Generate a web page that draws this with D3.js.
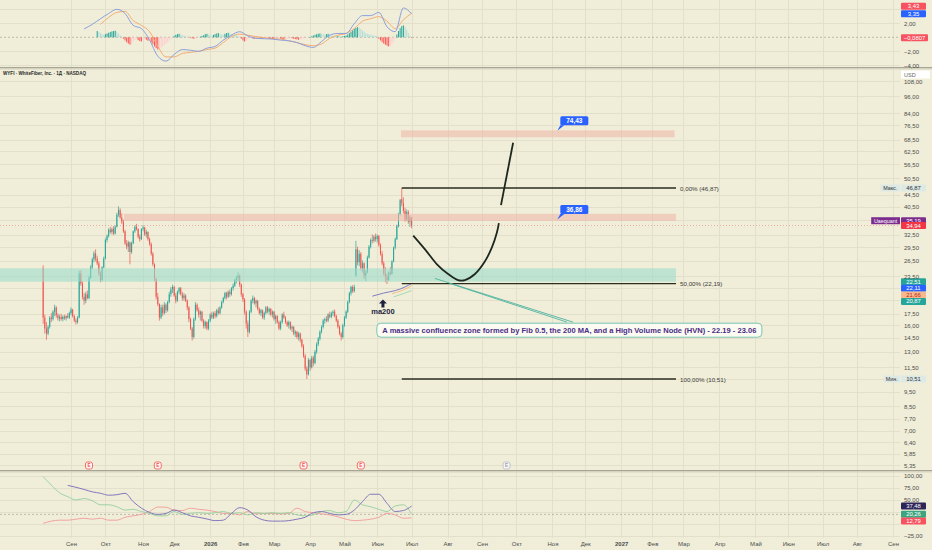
<!DOCTYPE html>
<html>
<head>
<meta charset="utf-8">
<script src="https://d3js.org/d3.v7.min.js"></script>
<style>
  html, body { margin: 0; padding: 0; background: #f0eed8; }
  svg text { font-family: "Liberation Sans", Arial, sans-serif; }
</style>
</head>
<body>
<svg id="chart"></svg>
<script>
var W = 932, H = 550;
var plotR = 900;   // right edge of the plot, price scale sits to the right
var scaleX = 903;  // left edge of the scale labels

// ---------------- data ----------------
var firstDay = "2025-08-07"; // first WYFI session
var holidays = ["2025-09-01", "2025-11-27", "2025-12-25", "2026-01-01", "2026-01-19", "2026-02-16",
  "2026-04-03", "2026-05-25", "2026-06-19", "2026-07-03", "2026-09-07", "2026-11-26", "2026-12-25",
  "2027-01-01", "2027-01-18", "2027-02-15", "2027-03-26", "2027-05-31", "2027-06-18", "2027-07-05"];

// daily [open, high, low, close]
var candles = [
  // aug 2025
  [25.0,25.6,16.2,17.0],[17.0,17.4,15.0,15.6],[15.6,16.4,14.3,15.0],[15.0,16.0,14.8,15.8],[15.8,17.2,15.6,17.0],
  [17.0,17.6,16.4,16.8],[16.8,18.0,16.6,17.8],[17.8,18.8,17.2,18.4],[18.4,18.6,17.0,17.3],[17.3,17.6,16.6,16.9],
  [16.9,17.4,16.5,17.1],[17.1,17.5,16.6,16.8],[16.8,17.3,16.5,17.1],[17.1,17.4,16.7,16.9],[16.9,17.3,16.6,17.2],
  [17.2,17.6,16.9,17.0],[17.0,17.8,16.8,17.6],
  // sep
  [17.6,18.4,17.3,18.1],[18.1,18.2,17.0,17.2],[17.2,17.4,16.4,16.6],[16.6,16.9,16.1,16.4],[16.4,17.2,16.2,17.0],
  [17.0,24.5,16.9,24.0],[24.0,24.6,21.8,22.2],[22.2,22.6,19.6,20.0],[20.0,20.6,18.8,19.4],[19.4,20.8,19.0,20.4],
  [20.4,21.0,19.6,19.8],[19.8,23.6,19.6,23.2],[23.2,25.6,23.0,25.2],[25.2,27.2,24.8,26.8],[26.8,28.6,26.2,28.1],
  [28.1,29.0,26.4,27.0],[27.0,27.6,25.6,26.0],[26.0,26.4,23.6,24.0],[24.0,24.4,22.4,22.8],[22.8,25.4,22.6,25.2],
  [25.2,27.4,25.0,27.0],
  // oct
  [27.0,31.6,26.8,31.2],[31.2,32.6,30.6,32.2],[32.2,34.2,31.8,33.8],[33.8,34.6,32.8,33.2],[33.2,34.4,32.6,34.0],
  [34.0,34.8,32.4,32.8],[32.8,35.0,32.6,34.6],[34.6,38.6,34.4,38.0],[38.0,40.6,37.4,39.4],[39.4,40.0,36.8,37.2],
  [37.2,38.4,35.4,36.0],[36.0,36.6,33.0,33.4],[33.4,33.8,30.0,30.4],[30.4,31.2,29.0,29.6],[29.6,31.0,28.4,30.6],
  [30.6,30.8,25.8,28.4],[28.4,30.8,28.0,30.4],[30.4,33.6,30.2,33.4],[33.4,35.0,33.0,34.6],[34.6,35.4,33.6,34.0],
  [34.0,34.2,31.6,32.0],[32.0,32.6,30.8,31.4],[31.4,34.2,31.2,34.0],
  // nov
  [34.0,35.0,33.4,34.4],[34.4,34.6,32.2,32.6],[32.6,33.8,31.8,33.2],[33.2,33.4,31.0,31.4],[31.4,31.8,29.8,30.2],
  [30.2,30.6,27.6,28.0],[28.0,28.4,25.4,25.8],[25.8,26.0,22.6,23.0],[23.0,23.2,19.6,20.0],[20.0,20.6,18.6,18.9],
  [18.9,19.0,16.6,17.0],[17.0,18.8,16.8,18.4],[18.4,18.8,17.2,17.6],[17.6,19.2,17.4,18.8],[18.8,19.0,17.6,18.0],
  [18.0,19.4,17.8,19.2],[19.2,20.8,19.0,20.4],[20.4,21.6,20.0,21.2],[21.2,22.0,20.6,21.6],
  // dec
  [21.6,21.8,20.0,20.2],[20.2,20.6,19.0,19.4],[19.4,21.0,19.2,20.8],[20.8,21.6,20.4,21.4],[21.4,21.6,20.2,20.4],
  [20.4,20.8,19.4,19.8],[19.8,20.6,19.4,20.2],[20.2,20.4,19.2,19.4],[19.4,19.6,18.0,18.4],[18.4,18.6,16.4,16.8],
  [16.8,17.0,15.4,15.6],[15.6,15.8,14.2,14.6],[14.6,17.0,14.4,16.8],[16.8,19.2,16.6,18.8],[18.8,19.0,17.8,18.0],
  [18.0,18.4,17.0,17.4],[17.4,18.0,16.6,17.8],[17.8,17.9,16.4,16.6],[16.6,16.8,15.6,15.9],[15.9,16.6,15.6,16.4],
  [16.4,16.5,15.4,15.6],[15.6,16.8,15.4,16.6],
  // jan 2026
  [16.6,17.6,16.4,17.4],[17.4,17.8,16.8,17.0],[17.0,17.8,16.8,17.6],[17.6,17.9,16.9,17.2],[17.2,18.2,17.0,18.0],
  [18.0,18.4,17.4,17.6],[17.6,18.6,17.4,18.4],[18.4,19.4,18.2,19.2],[19.2,20.0,19.0,19.8],[19.8,20.8,19.6,20.6],
  [20.6,20.8,19.6,20.0],[20.0,21.0,19.8,20.8],[20.8,21.2,20.0,20.4],[20.4,21.6,20.2,21.4],[21.4,22.2,21.0,21.8],
  [21.8,23.0,21.6,22.8],[22.8,23.6,22.2,23.2],[23.2,24.2,22.6,23.6],[23.6,23.8,21.6,22.0],[22.0,22.2,20.0,20.4],
  // feb
  [20.4,20.6,19.2,19.6],[19.6,19.8,17.4,17.8],[17.8,18.0,15.6,16.2],[16.2,16.6,14.6,15.2],[15.2,18.0,15.0,17.8],
  [17.8,19.6,17.6,19.4],[19.4,20.2,19.0,19.8],[19.8,20.0,18.8,19.0],[19.0,19.6,18.4,19.4],[19.4,19.5,18.0,18.2],
  [18.2,18.4,17.4,17.6],[17.6,18.2,17.2,18.0],[18.0,18.1,16.8,17.0],[17.0,17.8,16.7,17.6],[17.6,18.6,17.4,18.4],
  [18.4,18.6,17.6,17.8],[17.8,18.4,17.4,18.2],[18.2,18.3,17.2,17.4],[17.4,18.0,17.0,17.8],
  // mar
  [17.8,17.9,16.6,16.8],[16.8,17.4,16.2,17.2],[17.2,17.3,16.2,16.4],[16.4,16.6,15.4,15.6],[15.6,16.6,15.4,16.4],
  [16.4,17.6,16.2,17.4],[17.4,17.8,16.8,17.0],[17.0,17.2,16.2,16.4],[16.4,16.6,15.8,16.0],[16.0,16.6,15.6,16.4],
  [16.4,16.5,15.4,15.6],[15.6,16.0,15.2,15.8],[15.8,15.9,14.8,15.0],[15.0,15.4,14.6,15.2],[15.2,15.3,14.4,14.6],
  [14.6,15.2,14.2,15.0],[15.0,15.1,14.0,14.3],[14.3,14.4,13.4,13.6],[13.6,13.8,12.4,12.6],[12.6,12.8,11.2,11.4],
  [11.4,11.6,10.51,10.9],[10.9,12.4,10.8,12.2],
  // apr
  [12.2,12.3,11.2,11.5],[11.5,12.6,11.4,12.4],[12.4,12.6,11.6,11.9],[11.9,13.2,11.8,13.0],[13.0,14.0,12.8,13.8],
  [13.8,14.6,13.6,14.4],[14.4,15.4,14.2,15.2],[15.2,16.0,15.0,15.8],[15.8,16.8,15.6,16.6],[16.6,17.0,16.2,16.8],
  [16.8,17.2,16.4,16.6],[16.6,17.6,16.4,17.4],[17.4,17.8,16.9,17.1],[17.1,17.8,16.9,17.6],[17.6,18.0,17.2,17.8],
  [17.8,18.1,17.0,17.2],[17.2,17.4,16.4,16.6],[16.6,16.8,15.6,15.8],[15.8,16.0,14.8,15.0],[15.0,15.2,14.2,14.6],
  [14.6,16.2,14.4,16.0],
  // may
  [16.0,17.2,15.8,17.0],[17.0,18.0,16.8,17.8],[17.8,19.4,17.6,19.2],[19.2,20.8,19.0,20.6],[20.6,21.8,20.2,21.6],
  [21.6,21.9,20.6,20.9],[20.9,22.0,20.7,21.6],[23.6,31.0,23.4,29.0],[29.0,29.6,25.6,26.2],[26.2,28.8,25.4,28.0],
  [28.0,28.4,24.6,25.0],[25.0,26.6,24.2,26.0],[26.0,26.2,23.0,23.6],[23.6,24.6,22.6,24.2],[24.2,27.6,24.0,27.2],
  [27.2,30.0,27.0,29.6],[29.6,31.6,29.2,31.2],[31.2,32.6,30.4,31.0],[31.0,32.4,30.6,32.0],[32.0,32.8,30.8,31.4],
  // jun
  [31.4,32.6,30.6,32.2],[32.2,32.4,29.6,30.0],[30.0,30.4,27.6,28.0],[28.0,28.6,25.6,26.0],[26.0,26.4,23.6,24.0],
  [24.0,25.2,22.4,23.4],[23.4,24.0,22.1,22.8],[22.8,24.4,22.6,24.2],[24.2,25.2,23.6,23.9],[23.9,26.6,23.8,26.4],
  [26.4,29.6,26.2,29.4],[29.4,31.8,29.0,31.4],[31.4,35.2,31.2,34.8],[34.8,38.6,34.4,38.2],[38.2,43.0,37.8,42.6],
  [43.0,46.87,40.6,41.6],[41.6,43.6,38.4,39.2],[39.2,40.2,36.0,36.6],[36.6,39.6,36.2,38.8],[38.8,39.4,35.4,36.0],
  [36.0,37.8,34.6,37.2],
  // jul
  [37.2,37.4,34.2,34.94]
];

// MACD panel, lines read every 5 bars
var step = 5;
var macdStart = 25;
var macdLine = [1.2, 1.85, 2.65, 3.4, 4.0, 3.4, 1.7, 1.25, -0.4, -2.7, -3.4, -2.45, -1.75, -1.85, -2.0, -1.55,
  -1.3, -0.4, 0.3, 0.8, 0.2, -0.15, -0.2, -0.25, -0.4, -0.5, -0.75, -1.2, -1.45, -0.6, 0.3, 0.55, 0.55,
  1.95, 3.1, 3.1, 3.55, 1.5, 0.8, 4.2, 3.35];
var signalStart = 35;
var signalLine = [1.85, 2.85, 3.55, 3.7, 2.4, 1.7, 0.8, -1.3, -2.8, -2.8, -2.3, -2.15, -2.0, -1.75, -1.55,
  -0.75, 0.1, 0.45, 0.3, 0.1, -0.05, -0.2, -0.25, -0.5, -0.75, -1.05, -1.2, -0.95, -0.15, 0.3, 0.55, 1.25,
  2.3, 2.65, 2.95, 2.3, 1.25, 2.5, 3.43];
// histogram, one value per bar
var histStart = 33;
var macdHist = [0.9, 0.75, 0.6, 0.45, 0.35,
  0.45, 0.55, 0.65, 0.75, 0.85, 0.9, 0.95,
  0.8, 0.55, 0.3, 0.1,
  -0.2, -0.45, -0.7, -0.9, -1.05, -1.0,
  -0.6, -0.35, -0.25,
  -0.4, -0.55, -0.6,
  -0.45, -0.3, -0.35, -0.5, -0.4,
  -0.7, -1.0, -1.3, -1.55, -1.75, -1.7,
  -1.5, -1.3, -1.1, -0.9, -0.7, -0.5, -0.3, -0.1,
  0.2, 0.35, 0.45, 0.5, 0.4, 0.3, 0.25,
  0.15, 0.1, 0.05, -0.05,
  -0.15, -0.2, -0.15, -0.1, -0.05,
  0.1, 0.2, 0.3, 0.45, 0.5, 0.4, 0.3, 0.25, 0.35, 0.45, 0.55, 0.6, 0.5,
  0.4, 0.35, 0.5, 0.6, 0.65, 0.55, 0.45, 0.4, 0.35, 0.3, 0.2, 0.1,
  -0.2, -0.45, -0.6, -0.55, -0.3, -0.15,
  -0.1, -0.15, -0.2, -0.15, -0.1, -0.15, -0.2, -0.25, -0.2, -0.15, -0.1, -0.15, -0.2, -0.25, -0.3, -0.25,
  -0.2, -0.15, -0.2, -0.25, -0.3, -0.25, -0.2, -0.15, -0.1, -0.15, -0.2, -0.25, -0.3, -0.35, -0.3, -0.25,
  -0.2, -0.15, -0.1,
  -0.05, 0.05, 0.15, 0.25,
  0.35, 0.45, 0.5, 0.55, 0.5, 0.45, 0.4, 0.45, 0.5, 0.4, 0.3,
  0.25, 0.2, 0.15, 0.2, 0.15, 0.1, 0.15, 0.2, 0.25,
  0.4, 0.6, 0.8, 1.0, 1.2, 1.35, 1.45, 1.4,
  1.2, 1.0, 0.8, 0.6, 0.5, 0.45, 0.4, 0.3, 0.25, 0.2, 0.1,
  -0.2, -0.45, -0.7, -0.9, -1.05, -1.2, -1.3, -1.25, -1.0,
  -0.6, -0.2,
  0.4, 0.9, 1.3, 1.6, 1.7, 1.5, 1.1, 0.6,
  0.2, -0.0807];

// DMI panel, read every 5 bars
var dmiStart = 0;
var plusDI = [98.5, 81, 65, 57, 50, 53, 48.5, 40, 40, 36, 29, 30.5, 26, 22, 17, 17, 26, 20, 22, 23.5,
  22, 23.5, 26, 22, 23.5, 19, 23.5, 22, 23.5, 22, 23.5, 19, 17, 19, 26, 28, 23.5, 26, 50, 40,
  36, 30.5, 26, 37.5, 40, 20.26];
var minusDI = [1.4, 6, 8, 8, 10, 12, 10, 12, 8, 8, 14, 17, 20, 26, 35.4, 35, 29, 28, 33, 30.5,
  29, 26, 22, 22, 19, 26, 21, 22, 22, 21, 22, 33, 26, 23.5, 21, 19, 15, 10, 7, 8,
  10, 14, 22, 19, 12, 12.79];
var adxStart = 15;
var adxLine = [80.5, 76.5, 72, 67, 64, 60, 61, 64, 46.5, 33, 24, 20, 22, 29, 23.5, 17, 14, 10.5, 7, 8,
  22, 34, 29, 15, 8, 6, 6, 7, 10, 14, 23.5, 26, 22, 19, 20, 29, 46.5, 62, 62, 43, 26, 28, 37.48];

// moving averages near the last bars
var ma200Bars = [201, 208, 215, 221, 225], ma200 = [20.1, 20.6, 21.0, 21.6, 22.2];
var ma50Bars = [213, 219, 225], ma50 = [20.5, 21.0, 21.8];
var ma100Bars = [214, 220, 225], ma100 = [20.0, 20.5, 21.0];

// scales' tick values
var priceTicks = [108, 96, 84, 76.5, 68.5, 62.5, 56.5, 50.5, 44.5, 40.5, 36.5, 32.5, 29.5, 26.5, 23.5,
  21.5, 19.5, 17.5, 16, 14.5, 13, 11.5, 10.5, 9.5, 8.5, 7.7, 7, 6.4, 5.85, 5.35];
var macdTicks = [4, 2, 0, -2, -4];
var dmiTicks = [100, 75, 50, 25, 0, -25];
var monthNames = ["Янв", "Фев", "Мар", "Апр", "Май", "Июн", "Июл", "Авг", "Сен", "Окт", "Ноя", "Дек"];

// drawings
var fibNames = ["0,00%", "50,00%", "100,00%"];
var fibPrices = [46.87, 22.19, 10.51];
var fibBars = [219, 386.5];
var zoneBars = [[49.3, 386.5], [218.5, 385.6], [-30, 386.5]];
var zoneLo = [36.2, 69.7, 22.5];
var zoneHi = [38.3, 73.6, 25.0];
var targetNames = ["74,43", "36,86"];
var targetBar = 314;
var targetPrices = [73.3, 36.6];
var pathBars = [226, 233.2, 240.5, 247.3, 253.3, 257.6, 263.7, 269.8, 274.1, 277.1, 278.3];
var pathPrices = [32.3, 29.0, 25.8, 23.9, 22.8, 22.8, 23.9, 26.4, 29.5, 33.1, 35.6];
var legBars = [279.6, 287];
var legPrices = [41.0, 66.8];
var earningsBars = [28, 70, 159, 194, 283];
var noteText = "A massive confluence zone formed by Fib 0.5, the 200 MA, and a High Volume Node (HVN) - 22.19 - 23.06";
var noteBar = 203.8, notePrice = 15.4;
var linkBars = [[239.2, 323.6], [248.4, 319.9]];
var linkPrices = [[23.1, 16.4], [22.2, 16.4]];
var maTagBar = 207.5, maTagPrice = 19.6;

// scale badges
var extremeBadges = [
  {v: 46.87, txt: "46,87", fill: "#dde9e4", ink: "#333", tag: "Макс."},
  {v: 10.51, txt: "10,51", fill: "#dde9e4", ink: "#333", tag: "Мин."}
];
var lastBadges = [
  {v: 35.19, txt: "35,19", fill: "#7b2d8e", ink: "#fff", tag: "Uaequant"},
  {v: 34.94, txt: "34,94", fill: "#f23645", ink: "#fff"}
];
var maBadges = [
  {v: 22.51, txt: "22,51", fill: "#26a69a", ink: "#fff"},
  {v: 22.11, txt: "22,11", fill: "#2962ff", ink: "#fff"},
  {v: 21.66, txt: "21,66", fill: "#f7b98b", ink: "#b71c1c"},
  {v: 20.87, txt: "20,87", fill: "#26a69a", ink: "#fff"}
];
var macdBadges = [
  {v: 3.43, txt: "3,43", fill: "#f7525f", ink: "#fff"},
  {v: 3.35, txt: "3,35", fill: "#2962ff", ink: "#fff"}
];
var histBadge = [{v: -0.0807, txt: "\u22120,0807", fill: "#f7525f", ink: "#fff"}];
var dmiBadges = [
  {v: 37.48, txt: "37,48", fill: "#2d2458", ink: "#fff"},
  {v: 20.26, txt: "20,26", fill: "#3aa57f", ink: "#fff"},
  {v: 12.79, txt: "12,79", fill: "#f7525f", ink: "#fff"}
];

// ---------------- helpers ----------------
function gpos(x, y) {
  return "translate(" + x + "," + y + ")";
}
function ru(v, d) {
  return d3.format("." + d + "f")(v).replace(".", ",").replace("-", "\u2212");
}

// trading days (weekdays minus exchange holidays)
var parseDay = d3.utcParse("%Y-%m-%d"), fmtDay = d3.utcFormat("%Y-%m-%d");
var days = [];
for (var d = parseDay(firstDay); d <= parseDay("2027-10-01"); d = d3.utcDay.offset(d, 1)) {
  var wd = d.getUTCDay();
  if (wd == 0 || wd == 6 || holidays.indexOf(fmtDay(d)) >= 0) continue;
  days.push(d);
}
var bisectDay = d3.bisector(function(t) { return t; }).left;
function dayIdx(s) { return bisectDay(days, parseDay(s)); }

var monthIdx = d3.utcMonth.range(parseDay("2025-09-01"), parseDay("2027-09-02"))
  .map(function(m) { return dayIdx(fmtDay(m)); });

// ---------------- scales ----------------
var x = d3.scaleLinear().domain([dayIdx("2025-09-01"), dayIdx("2027-09-01")]).range([71, 893]);
var y = d3.scaleLog().domain([10.51, 46.87]).range([379, 188]);
var yMacd = d3.scaleLinear().domain([-4, 2]).range([65.3, 23.3]);
var yDmi = d3.scaleLinear().domain([-25, 100]).range([536, 476]);

var upCol = "#26a69a", downCol = "#ef5350";
var gridCol = "#e2dfca";

var svg = d3.select("#chart").attr("width", W).attr("height", H);
svg.append("rect").attr("width", W).attr("height", H).attr("fill", "#f0eed8");

var defs = svg.append("defs");
function clip(id, y0, y1) {
  defs.append("clipPath").attr("id", id).append("rect")
    .attr("x", 0).attr("y", y0).attr("width", plotR).attr("height", y1 - y0);
}
clip("clipMacd", 0, 67);
clip("clipMain", 70, 470);
clip("clipDmi", 472, 538);

// ---------------- grid ----------------
var grid = svg.append("g").attr("stroke", gridCol).attr("stroke-width", 1);
grid.selectAll("line.v").data(monthIdx).enter().append("line")
  .attr("x1", function(i) { return Math.round(x(i)) + 0.5; })
  .attr("x2", function(i) { return Math.round(x(i)) + 0.5; })
  .attr("y1", 0).attr("y2", 538);
function hGrid(vals, sc, y0, y1) {
  grid.selectAll(null).data(vals.filter(function(v) { var p = sc(v); return p > y0 && p < y1; }))
    .enter().append("line")
    .attr("x1", 0).attr("x2", plotR)
    .attr("y1", function(v) { return Math.round(sc(v)) + 0.5; })
    .attr("y2", function(v) { return Math.round(sc(v)) + 0.5; });
}
hGrid(priceTicks, y, 70, 470);
hGrid(macdTicks.filter(function(v) { return v != 0; }), yMacd, 0, 67);
hGrid(dmiTicks, yDmi, 472, 538);

// dashed reference lines
svg.append("line").attr("x1", 0).attr("x2", plotR).attr("y1", yMacd(0)).attr("y2", yMacd(0))
  .attr("stroke", "#aeac9a").attr("stroke-dasharray", "2,2").attr("stroke-width", 0.8);
svg.append("line").attr("x1", 0).attr("x2", plotR).attr("y1", yDmi(20)).attr("y2", yDmi(20))
  .attr("stroke", "#aeac9a").attr("stroke-dasharray", "2,2").attr("stroke-width", 0.8);

var bw = Math.max(1, (x(1) - x(0)) * 0.62);

// ---------------- MACD panel ----------------
var gM = svg.append("g").attr("clip-path", "url(#clipMacd)");
gM.selectAll("rect").data(macdHist).enter().append("rect")
  .attr("x", function(v, k) { return x(histStart + k) - bw / 2; })
  .attr("width", bw)
  .attr("y", function(v) { return Math.min(yMacd(v), yMacd(0)); })
  .attr("height", function(v) { return Math.max(0.6, Math.abs(yMacd(v) - yMacd(0))); })
  .attr("fill", function(v, k) {
    var prev = k > 0 ? macdHist[k - 1] : v;
    if (v >= 0) return v >= prev ? "#26a69a" : "#b2dfdb";
    return v <= prev ? "#ff5252" : "#ffcdd2";
  });

function sampled(start, vals) {
  return vals.map(function(v, k) { return [start + k * step, v]; });
}
var macdPath = d3.line().x(function(p) { return x(p[0]); }).y(function(p) { return yMacd(p[1]); })
  .curve(d3.curveMonotoneX);
gM.append("path").attr("d", macdPath(sampled(signalStart, signalLine)))
  .attr("fill", "none").attr("stroke", "#f4ad74").attr("stroke-width", 1);
gM.append("path").attr("d", macdPath(sampled(macdStart, macdLine)))
  .attr("fill", "none").attr("stroke", "#8c9fdc").attr("stroke-width", 1);

// ---------------- DMI panel ----------------
var gD = svg.append("g").attr("clip-path", "url(#clipDmi)");
var dmiPath = d3.line().x(function(p) { return x(p[0]); }).y(function(p) { return yDmi(p[1]); })
  .curve(d3.curveMonotoneX);
gD.append("path").attr("d", dmiPath(sampled(dmiStart, minusDI)))
  .attr("fill", "none").attr("stroke", "#f19b98").attr("stroke-width", 0.9);
gD.append("path").attr("d", dmiPath(sampled(dmiStart, plusDI)))
  .attr("fill", "none").attr("stroke", "#93cf9d").attr("stroke-width", 0.9);
gD.append("path").attr("d", dmiPath(sampled(adxStart, adxLine)))
  .attr("fill", "none").attr("stroke", "#8377bd").attr("stroke-width", 1);

// ---------------- main panel ----------------
var gC = svg.append("g").attr("clip-path", "url(#clipMain)");

// candles
gC.append("g").selectAll("line").data(candles).enter().append("line")
  .attr("x1", function(c, i) { return x(i); }).attr("x2", function(c, i) { return x(i); })
  .attr("y1", function(c) { return y(c[1]); }).attr("y2", function(c) { return y(c[2]); })
  .attr("stroke", function(c) { return c[3] >= c[0] ? upCol : downCol; })
  .attr("stroke-width", 0.7);
gC.append("g").selectAll("rect").data(candles).enter().append("rect")
  .attr("x", function(c, i) { return x(i) - bw / 2; })
  .attr("width", bw)
  .attr("y", function(c) { return y(Math.max(c[0], c[3])); })
  .attr("height", function(c) { return Math.max(0.8, Math.abs(y(c[0]) - y(c[3]))); })
  .attr("fill", function(c) { return c[3] >= c[0] ? upCol : downCol; });

// zones
var zoneFill = ["#f0b9ad", "#f0b9ad", "#9ddccb"];
gC.append("g").selectAll("rect").data(zoneBars).enter().append("rect")
  .attr("x", function(b) { return x(b[0]); })
  .attr("width", function(b) { return x(b[1]) - x(b[0]); })
  .attr("y", function(b, k) { return y(zoneHi[k]); })
  .attr("height", function(b, k) { return y(zoneLo[k]) - y(zoneHi[k]); })
  .attr("fill", function(b, k) { return zoneFill[k]; })
  .attr("opacity", 0.6);

// last price line
gC.append("line").attr("x1", 0).attr("x2", plotR)
  .attr("y1", y(34.94)).attr("y2", y(34.94))
  .attr("stroke", "#f23645").attr("stroke-opacity", 0.45)
  .attr("stroke-dasharray", "1,2").attr("stroke-width", 0.8);

// moving averages
var maPath = d3.line().curve(d3.curveMonotoneX);
function drawMa(bars, vals, col, op) {
  gC.append("path")
    .attr("d", maPath(bars.map(function(b, k) { return [x(b), y(vals[k])]; })))
    .attr("fill", "none").attr("stroke", col).attr("stroke-opacity", op).attr("stroke-width", 1);
}
drawMa(ma100Bars, ma100, "#8fd3a8", 0.8);
drawMa(ma50Bars, ma50, "#f4b06f", 0.8);
drawMa(ma200Bars, ma200, "#7f7fc4", 1);

// fib retracement
var gF = gC.append("g");
fibPrices.forEach(function(p, k) {
  gF.append("line")
    .attr("x1", x(fibBars[0])).attr("x2", x(fibBars[1]))
    .attr("y1", y(p)).attr("y2", y(p))
    .attr("stroke", "#2a2c20").attr("stroke-width", 1.3);
  gF.append("text")
    .attr("x", x(fibBars[1]) + 4).attr("y", y(p))
    .attr("dominant-baseline", "central")
    .attr("font-size", 6.2).attr("fill", "#3a3a3a")
    .text(fibNames[k] + " (" + ru(p, 2) + ")");
});

// projected path
var curve = d3.line().curve(d3.curveCatmullRom.alpha(0.5));
gC.append("path")
  .attr("d", curve(pathBars.map(function(b, k) { return [x(b), y(pathPrices[k])]; })))
  .attr("fill", "none").attr("stroke", "#1e281e").attr("stroke-width", 1.8);
gC.append("path")
  .attr("d", d3.line()(legBars.map(function(b, k) { return [x(b), y(legPrices[k])]; })))
  .attr("fill", "none").attr("stroke", "#1e281e").attr("stroke-width", 1.8);

// connectors to the note
linkBars.forEach(function(b, k) {
  gC.append("line")
    .attr("x1", x(b[0])).attr("y1", y(linkPrices[k][0]))
    .attr("x2", x(b[1])).attr("y2", y(linkPrices[k][1]))
    .attr("stroke", "#4fb3a0").attr("stroke-width", 0.9);
});

// note box
var nx = x(noteBar), ny = y(notePrice);
gC.append("rect").attr("x", nx).attr("y", ny - 7).attr("width", 385).attr("height", 14)
  .attr("rx", 4).attr("fill", "#fbfbf2").attr("stroke", "#6cc0ae").attr("stroke-width", 0.9);
gC.append("text").attr("x", nx + 192.5).attr("y", ny + 0.3)
  .attr("text-anchor", "middle").attr("dominant-baseline", "central")
  .attr("font-size", 7.2).attr("font-weight", "bold").attr("fill", "#4a2b86")
  .attr("textLength", 374).attr("lengthAdjust", "spacingAndGlyphs")
  .text(noteText);

// ma200 tag
var ax = x(maTagBar), ay = y(maTagPrice);
gC.append("path")
  .attr("d", "M" + ax + "," + ay + "l4,4h-2.5v4h-3v-4h-2.5z")
  .attr("fill", "#1d1f3f");
gC.append("text").attr("x", ax).attr("y", ay + 14.5).attr("text-anchor", "middle")
  .attr("font-size", 7.5).attr("font-weight", "bold").attr("fill", "#1d1f3f").text("ma200");

// price targets
targetPrices.forEach(function(p, k) {
  var tx = x(targetBar), ty = y(p);
  gC.append("path")
    .attr("d", "M" + (tx + 3) + "," + (ty - 5.5) + "L" + (tx + 7) + "," + (ty - 5.5) + "L" + tx + "," + ty + "Z")
    .attr("fill", "#2962ff");
  gC.append("rect").attr("x", tx + 3).attr("y", ty - 14.5).attr("width", 28).attr("height", 9)
    .attr("rx", 1.5).attr("fill", "#2962ff");
  gC.append("text").attr("x", tx + 17).attr("y", ty - 10)
    .attr("text-anchor", "middle").attr("dominant-baseline", "central")
    .attr("font-size", 6.5).attr("font-weight", "bold").attr("fill", "#fff")
    .text(targetNames[k]);
});

// earnings flags
var gE = svg.append("g");
earningsBars.forEach(function(b, k) {
  var past = b < candles.length;
  var ex = x(b);
  gE.append("rect").attr("x", ex - 3.5).attr("y", 462).attr("width", 7).attr("height", 7).attr("rx", 2)
    .attr("fill", past ? "#fff4f2" : "#f7f7f2")
    .attr("stroke", past ? "#ef5350" : "#b9b9c4").attr("stroke-width", 0.8);
  gE.append("text").attr("x", ex).attr("y", 465.7).attr("text-anchor", "middle")
    .attr("dominant-baseline", "central").attr("font-size", 4.6).attr("font-weight", "bold")
    .attr("fill", past ? "#ef5350" : "#9a9aab").text("E");
});

// panel separators
[67.5, 470.5].forEach(function(sy) {
  svg.append("rect").attr("x", 0).attr("y", sy - 0.5).attr("width", W).attr("height", 1.2).attr("fill", "#a7a594");
  svg.append("rect").attr("x", 0).attr("y", sy + 0.9).attr("width", W).attr("height", 1).attr("fill", "#cfcdbb");
});

// ---------------- badges ----------------
var badgeH = 7;
// dir > 0 pushes lower badges down, dir < 0 pushes upper badges up
function placeBadges(list, sc, dir, gap) {
  var ys = list.map(function(b) { return sc(b.v); });
  var k;
  if (dir > 0) for (k = 1; k < ys.length; k++) ys[k] = Math.max(ys[k], ys[k - 1] + gap);
  if (dir < 0) for (k = ys.length - 2; k >= 0; k--) ys[k] = Math.min(ys[k], ys[k + 1] - gap);
  return ys;
}
var gB = svg.append("g");
function drawBadges(list, ys) {
  list.forEach(function(b, k) {
    var by = ys[k];
    var bwid = b.txt.length > 5 ? 27 : 25;
    if (b.tag) {
      var tw = b.tag.length * 3.1 + 4;
      gB.append("rect").attr("x", plotR - tw).attr("y", by - badgeH / 2).attr("width", tw).attr("height", badgeH)
        .attr("fill", b.fill);
      gB.append("text").attr("x", plotR - tw / 2).attr("y", by).attr("text-anchor", "middle")
        .attr("dominant-baseline", "central").attr("font-size", 5.4).attr("fill", b.ink).text(b.tag);
    }
    gB.append("rect").attr("x", plotR + 1).attr("y", by - badgeH / 2).attr("width", bwid).attr("height", badgeH)
      .attr("rx", 1).attr("fill", b.fill);
    gB.append("text").attr("x", plotR + 1 + bwid / 2).attr("y", by).attr("text-anchor", "middle")
      .attr("dominant-baseline", "central").attr("font-size", 5.9).attr("fill", b.ink).text(b.txt);
  });
}

var extYs = placeBadges(extremeBadges, y, 0, 0);
var lastYs = placeBadges(lastBadges, y, -1, 4.8);
var maYs = placeBadges(maBadges, y, 1, 6.6);
var macdYs = placeBadges(macdBadges, yMacd, -1, 7.5);
var histYs = placeBadges(histBadge, yMacd, 0, 0);
var dmiYs = placeBadges(dmiBadges, yDmi, 1, 6.6);
var allYs = extYs.concat(lastYs, maYs, macdYs, histYs, dmiYs);

// ---------------- axes ----------------
function scaleAxis(sc, vals, dec, y0, y1) {
  var ax = d3.axisRight(sc).tickValues(vals.filter(function(v) {
      var p = sc(v);
      return p > y0 && p < y1 && !allYs.some(function(b) { return Math.abs(b - p) < 5.2; });
    }))
    .tickSize(0).tickPadding(0).tickFormat(function(v) { return ru(v, dec); });
  var g = svg.append("g").attr("transform", gpos(scaleX + 1, 0)).call(ax);
  g.select(".domain").remove();
  g.selectAll("text").attr("font-size", 6).attr("fill", "#4d4d4d")
    .attr("font-family", "Liberation Sans, Arial, sans-serif");
}
scaleAxis(y, priceTicks, 2, 80, 468);
scaleAxis(yMacd, macdTicks, 2, 3, 67);
scaleAxis(yDmi, dmiTicks, 2, 472, 538);

drawBadges(extremeBadges, extYs);
drawBadges(lastBadges, lastYs);
drawBadges(maBadges, maYs);
drawBadges(macdBadges, macdYs);
drawBadges(histBadge, histYs);
drawBadges(dmiBadges, dmiYs);

// currency tag
gB.append("rect").attr("x", plotR + 1).attr("y", 70.5).attr("width", 29).attr("height", 8)
  .attr("fill", "#ffffff");
gB.append("text").attr("x", plotR + 4).attr("y", 74.7).attr("dominant-baseline", "central")
  .attr("font-size", 5.6).attr("fill", "#666").text("USD");

// time axis
var xAxis = d3.axisBottom(x).tickValues(monthIdx).tickSize(0).tickPadding(0)
  .tickFormat(function(i) {
    var m = days[i].getUTCMonth();
    return m == 0 ? String(days[i].getUTCFullYear()) : monthNames[m];
  });
var gX = svg.append("g").attr("transform", gpos(0, 541.5)).call(xAxis);
gX.select(".domain").remove();
gX.selectAll("text").attr("font-size", 6).attr("fill", "#4d4d4d")
  .attr("font-family", "Liberation Sans, Arial, sans-serif")
  .attr("font-weight", function(i) { return days[i].getUTCMonth() == 0 ? "bold" : null; });

// symbol title
svg.append("text").attr("x", 3).attr("y", 75.2)
  .attr("font-size", 5.6).attr("font-weight", "bold").attr("fill", "#2a2a2a")
  .attr("textLength", 83).attr("lengthAdjust", "spacingAndGlyphs")
  .text("WYFI · WhiteFiber, Inc. · 1Д · NASDAQ");
</script>
</body>
</html>
